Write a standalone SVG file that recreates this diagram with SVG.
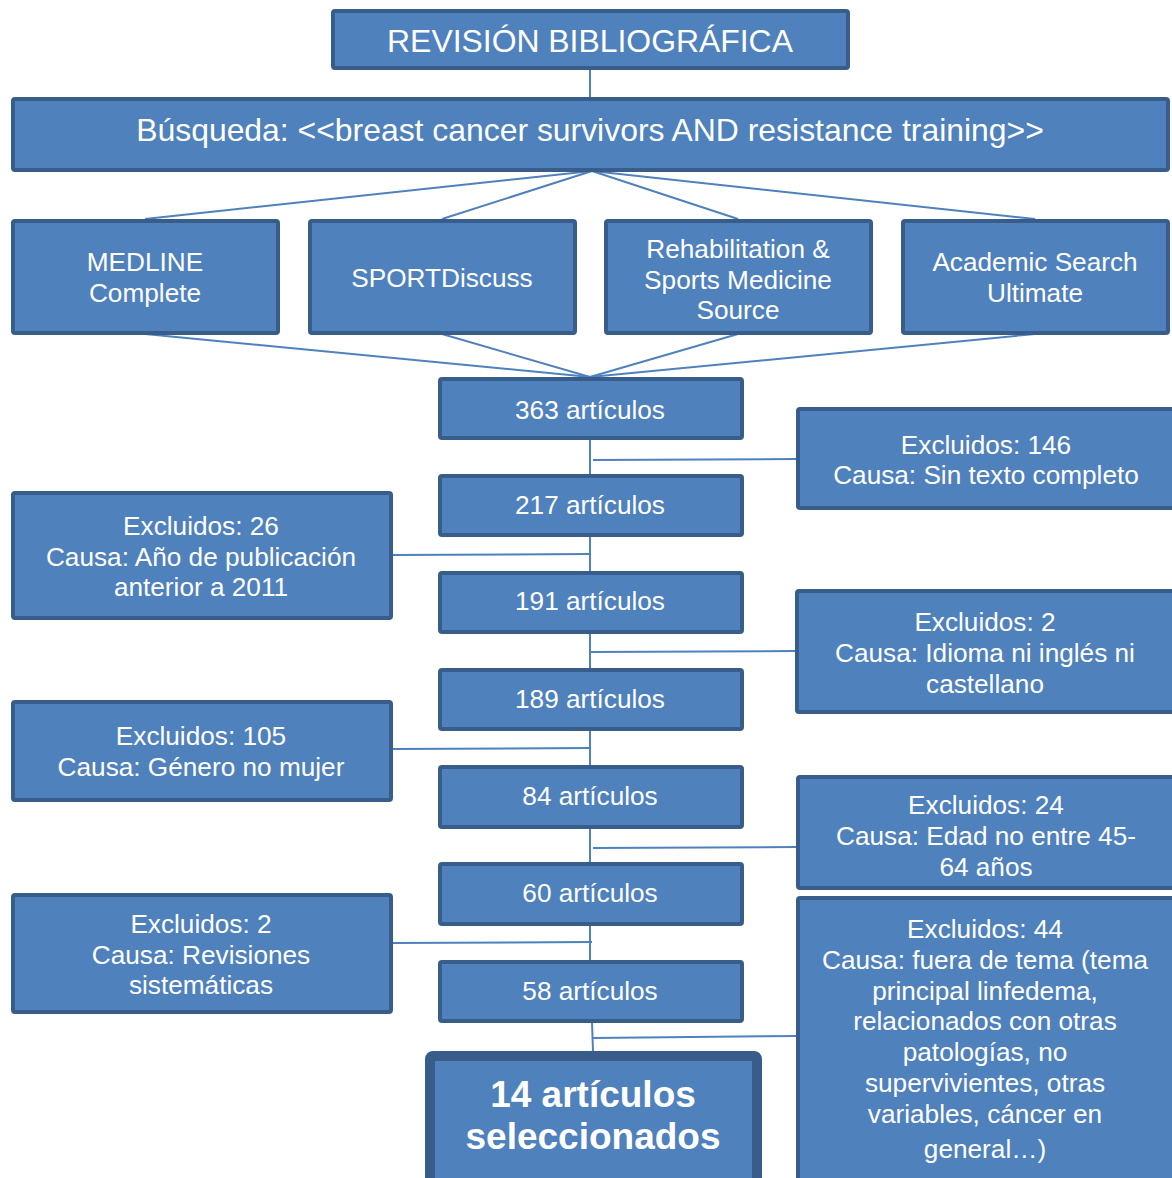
<svg xmlns="http://www.w3.org/2000/svg" width="1172" height="1178" viewBox="0 0 1172 1178">
<style>
.b{fill:#4F81BD;stroke:#385D8A;stroke-width:4}
.f{fill:#4F81BD;stroke:#385D8A;stroke-width:10}
.t{font-family:"Liberation Sans",Arial,sans-serif;font-size:26.2px;fill:#fff;text-anchor:middle}
.big{font-size:31.9px}
.bold{font-size:37px;font-weight:bold}
.c line{stroke:#4F81BD;stroke-width:2}
</style>
<rect width="1172" height="1178" fill="#fff"/>
<g class="c">
<line x1="590" y1="69" x2="590" y2="97"/>
<line x1="592" y1="171" x2="145" y2="219"/>
<line x1="592" y1="171" x2="442" y2="219"/>
<line x1="592" y1="171" x2="738" y2="219"/>
<line x1="592" y1="171" x2="1035" y2="219"/>
<line x1="145" y1="334" x2="590" y2="377"/>
<line x1="442" y1="334" x2="590" y2="377"/>
<line x1="738" y1="334" x2="590" y2="377"/>
<line x1="1035" y1="334" x2="590" y2="377"/>
<line x1="590" y1="439" x2="590" y2="960"/>
<line x1="592" y1="1022" x2="593" y2="1051"/>
<line x1="593" y1="460" x2="796" y2="459"/>
<line x1="392" y1="555" x2="590" y2="554"/>
<line x1="590" y1="652" x2="795" y2="651"/>
<line x1="392" y1="749" x2="590" y2="748"/>
<line x1="593" y1="848" x2="796" y2="847"/>
<line x1="392" y1="943" x2="592" y2="942"/>
<line x1="593" y1="1038" x2="796" y2="1036"/>
</g>
<g id="n-title"><rect class="b" x="333" y="11" width="515" height="57" rx="2"/><text class="t big" x="590" y="52">REVISIÓN BIBLIOGRÁFICA</text></g>
<g id="n-busqueda"><rect class="b" x="13" y="99" width="1155" height="71" rx="2"/><text class="t big" x="590" y="141">Búsqueda: &lt;&lt;breast cancer survivors AND resistance training&gt;&gt;</text></g>
<g id="n-medline"><rect class="b" x="13" y="221" width="265" height="112" rx="2"/><text class="t" x="145" y="271">MEDLINE</text><text class="t" x="145" y="302">Complete</text></g>
<g id="n-sport"><rect class="b" x="310" y="221" width="265" height="112" rx="2"/><text class="t" x="442" y="287">SPORTDiscuss</text></g>
<g id="n-rehab"><rect class="b" x="606" y="221" width="265" height="112" rx="2"/><text class="t" x="738" y="258">Rehabilitation &amp;</text><text class="t" x="738" y="289">Sports Medicine</text><text class="t" x="738" y="319">Source</text></g>
<g id="n-academic"><rect class="b" x="903" y="221" width="265" height="112" rx="2"/><text class="t" x="1035" y="271">Academic Search</text><text class="t" x="1035" y="302">Ultimate</text></g>
<g id="n-363"><rect class="b" x="440" y="379" width="302" height="59" rx="2"/><text class="t" x="590" y="419">363 artículos</text></g>
<g id="n-217"><rect class="b" x="440" y="476" width="302" height="59" rx="2"/><text class="t" x="590" y="514">217 artículos</text></g>
<g id="n-191"><rect class="b" x="440" y="573" width="302" height="59" rx="2"/><text class="t" x="590" y="610">191 artículos</text></g>
<g id="n-189"><rect class="b" x="440" y="670" width="302" height="59" rx="2"/><text class="t" x="590" y="708">189 artículos</text></g>
<g id="n-84"><rect class="b" x="440" y="767" width="302" height="60" rx="2"/><text class="t" x="590" y="805">84 artículos</text></g>
<g id="n-60"><rect class="b" x="440" y="864" width="302" height="60" rx="2"/><text class="t" x="590" y="902">60 artículos</text></g>
<g id="n-58"><rect class="b" x="440" y="962" width="302" height="59" rx="2"/><text class="t" x="590" y="1000">58 artículos</text></g>
<g id="n-final"><rect class="f" x="430" y="1056" width="327" height="130" rx="3"/><text class="t bold" x="593" y="1107">14 artículos</text><text class="t bold" x="593" y="1149">seleccionados</text></g>
<g id="n-ex146"><rect class="b" x="798" y="409" width="380" height="99" rx="2"/><text class="t" x="986" y="454">Excluidos: 146</text><text class="t" x="986" y="484">Causa: Sin texto completo</text></g>
<g id="n-ex26"><rect class="b" x="13" y="493" width="378" height="125" rx="2"/><text class="t" x="201" y="535">Excluidos: 26</text><text class="t" x="201" y="566">Causa: Año de publicación</text><text class="t" x="201" y="596">anterior a 2011</text></g>
<g id="n-ex2a"><rect class="b" x="797" y="591" width="380" height="121" rx="2"/><text class="t" x="985" y="631">Excluidos: 2</text><text class="t" x="985" y="662">Causa: Idioma ni inglés ni</text><text class="t" x="985" y="693">castellano</text></g>
<g id="n-ex105"><rect class="b" x="13" y="702" width="378" height="98" rx="2"/><text class="t" x="201" y="745">Excluidos: 105</text><text class="t" x="201" y="776">Causa: Género no mujer</text></g>
<g id="n-ex24"><rect class="b" x="798" y="777" width="380" height="111" rx="2"/><text class="t" x="986" y="814">Excluidos: 24</text><text class="t" x="986" y="845">Causa: Edad no entre 45-</text><text class="t" x="986" y="876">64 años</text></g>
<g id="n-ex2b"><rect class="b" x="13" y="895" width="378" height="117" rx="2"/><text class="t" x="201" y="933">Excluidos: 2</text><text class="t" x="201" y="964">Causa: Revisiones</text><text class="t" x="201" y="994">sistemáticas</text></g>
<g id="n-ex44"><rect class="b" x="798" y="898" width="380" height="290" rx="2"/>
<text class="t" x="985" y="938">Excluidos: 44</text>
<text class="t" x="985" y="969">Causa: fuera de tema (tema</text>
<text class="t" x="985" y="1000">principal linfedema,</text>
<text class="t" x="985" y="1030">relacionados con otras</text>
<text class="t" x="985" y="1061">patologías, no</text>
<text class="t" x="985" y="1092">supervivientes, otras</text>
<text class="t" x="985" y="1123">variables, cáncer en</text>
<text class="t" x="985" y="1158">general…)</text></g>
</svg>
